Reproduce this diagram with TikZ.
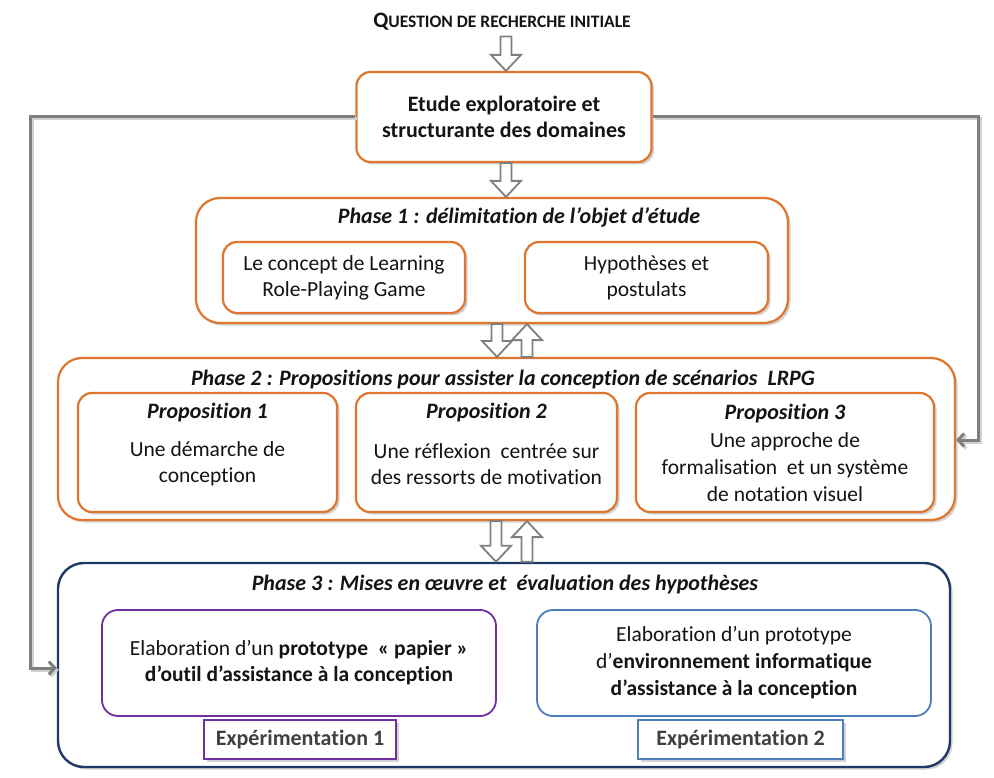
\documentclass[tikz,border=0pt]{standalone}
\usepackage{fontspec}
\setmainfont{Carlito}[Ligatures=CommonOff]
\usetikzlibrary{shadows,arrows.meta,calc}
\definecolor{orgB}{HTML}{E0762E}
\definecolor{navy}{HTML}{203864}
\definecolor{purp}{HTML}{7030A0}
\definecolor{stb}{HTML}{4F7FBA}
\definecolor{arrg}{HTML}{7F7F7F}
\definecolor{txt}{HTML}{141414}
\definecolor{exptxt}{HTML}{404040}
\newcommand\fbody{\fontsize{21.5}{26}\selectfont}
\newcommand\hdown[3]{%
  \draw[harr] let \p1=(#2 -| #1), \p2=(#3 -| #1) in
  ({\x1-5.5pt},\y1) -- ({\x1+5.5pt},\y1) -- ({\x1+5.5pt},{\y2+16pt}) -- ({\x1+15pt},{\y2+16pt})
  -- (\x1,\y2) -- ({\x1-15pt},{\y2+16pt}) -- ({\x1-5.5pt},{\y2+16pt}) -- cycle;}
\newcommand\hup[3]{%
  \draw[harr] let \p1=(#2 -| #1), \p2=(#3 -| #1) in
  ({\x1-5.5pt},\y1) -- ({\x1+5.5pt},\y1) -- ({\x1+5.5pt},{\y2-16pt}) -- ({\x1+15pt},{\y2-16pt})
  -- (\x1,\y2) -- ({\x1-15pt},{\y2-16pt}) -- ({\x1-5.5pt},{\y2-16pt}) -- cycle;}
\tikzset{
  shad/.style={drop shadow={opacity=0.35,shadow xshift=2.5pt,shadow yshift=-2.5pt}},
  obox/.style={draw=orgB, line width=2.2pt, fill=white, rounded corners=14pt, shad,
    align=center, inner sep=0pt, text=txt, font=\fbody},
  phbox/.style={obox, rounded corners=24pt},
  harr/.style={draw=arrg, line width=1.8pt, fill=white, line join=miter},
  conn/.style={draw=arrg, line width=3pt, -{Straight Barb[length=6pt,width=13pt]},
    preaction={draw=black!18, line width=3pt, transform canvas={xshift=2pt,yshift=-2pt}}},
  ttl/.style={font=\fontsize{22}{26}\selectfont\bfseries\itshape, text=txt, inner sep=0pt},
  lbl/.style={font=\fbody, text=txt, align=center, inner sep=0pt},
}
\begin{document}
\begin{tikzpicture}[x=1pt,y=-1pt]
\path[fill=white,use as bounding box] (0,0) rectangle (994,778);

% title
\node[inner sep=0pt, outer sep=6pt, text=txt] (q) at (502,22)
  {\bfseries{\fontsize{22}{22}\selectfont Q}{\fontsize{17.5}{18}\selectfont UESTION DE RECHERCHE INITIALE}};

% etude
\node[obox, minimum width=295pt, minimum height=90pt, font=\fontsize{22}{26}\selectfont\bfseries]
  (etude) at (504,117) {Etude exploratoire et\\structurante des domaines};

% phase 1
\node[phbox, minimum width=592pt, minimum height=125pt] (p1) at (492,260.5) {};
\node[ttl] (p1t) at (519,217) {Phase 1 : délimitation de l’objet d’étude};
\node[obox, minimum width=242pt, minimum height=71pt] (p1a) at (344,277.5)
  {Le concept de Learning\\Role-Playing Game};
\node[obox, minimum width=243pt, minimum height=71pt] (p1b) at (646.5,277.5)
  {Hypothèses et\\postulats};

% phase 2
\node[phbox, minimum width=897pt, minimum height=162pt] (p2) at (506.5,439) {};
\node[ttl] (p2t) at (503,380) {Phase 2 : Propositions pour assister la conception de scénarios\ \ LRPG};
\node[obox, minimum width=259pt, minimum height=119pt] (pr1) at (207.5,452.5) {};
\node[obox, minimum width=261pt, minimum height=119pt] (pr2) at (486.5,452.5) {};
\node[obox, minimum width=298pt, minimum height=119pt] (pr3) at (785,452.5) {};
\node[ttl] (pr1t) at (207.5,413) {Proposition 1};
\node[ttl] (pr2t) at (486.5,413) {Proposition 2};
\node[ttl] (pr3t) at (785,414) {Proposition 3};
\node[lbl] (pr1b) at (207.5,464) {Une démarche de\\conception};
\node[lbl] (pr2b) at (486.5,464) {Une réflexion\ \ centrée sur\\des ressorts de motivation};
\node[lbl, font=\fontsize{21.5}{27}\selectfont] (pr3b) at (785,467) {Une approche de\\formalisation\ \ et un système\\de notation visuel};

% phase 3
\node[draw=navy, line width=2.4pt, fill=white, rounded corners=26pt, shad,
  minimum width=892pt, minimum height=204pt] (p3) at (504,665) {};
\node[ttl] (p3t) at (505,585) {Phase 3 : Mises en œuvre et\ \ évaluation des hypothèses};
\node[draw=purp, line width=1.8pt, fill=white, rounded corners=16pt, minimum width=394pt,
  minimum height=106pt, align=center, font=\fbody, text=txt] (lb) at (299,663)
  {Elaboration d’un \textbf{prototype\ \ « papier »}\\\textbf{d’outil d’assistance à la conception}};
\node[draw=stb, line width=1.8pt, fill=white, rounded corners=16pt, minimum width=394pt,
  minimum height=106pt, align=center, font=\fontsize{21.5}{27}\selectfont, text=txt] (rb) at (734,663)
  {Elaboration d’un prototype\\d’\textbf{environnement informatique}\\\textbf{d’assistance à la conception}};
\node[draw=purp, line width=2.4pt, fill=white, shad, minimum width=192pt, minimum height=39pt,
  font=\fontsize{22}{26}\selectfont\bfseries, text=exptxt] (e1) at (300,739.5) {Expérimentation 1};
\node[draw=stb, line width=2.4pt, fill=white, shad, minimum width=205pt, minimum height=39pt,
  font=\fontsize{22}{26}\selectfont\bfseries, text=exptxt] (e2) at (740.5,739.5) {Expérimentation 2};

% hollow arrows
\coordinate (xa) at (506,0);
\coordinate (xd) at (497,0);
\coordinate (xu) at (527,0);
\coordinate (xd2) at (496,0);
\hdown{xa}{q.south}{etude.north}
\hdown{xa}{etude.south}{p1.north}
\hdown{xd}{p1.south}{p2.north}
\hup{xu}{p2.north}{p1.south}
\hdown{xd2}{p2.south}{p3.north}
\hup{xu}{p3.north}{p2.south}

% side connectors
\coordinate (lc) at (30,668);
\coordinate (rc) at (978,440);
\draw[conn] (etude.west) -| (lc) -- (lc -| p3.west);
\draw[conn] (etude.east) -| (rc) -- (rc -| p2.east);
\end{tikzpicture}
\end{document}
